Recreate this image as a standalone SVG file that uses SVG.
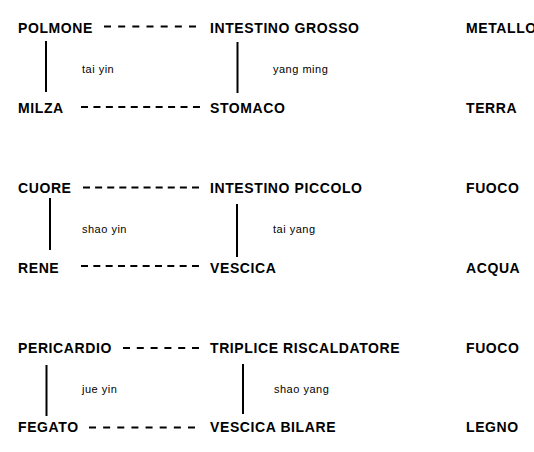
<svg xmlns="http://www.w3.org/2000/svg" width="534" height="452" viewBox="0 0 534 452">
<style>
.b{font-family:"Liberation Sans",Arial,sans-serif;font-weight:bold;font-size:14px;letter-spacing:0.6px;fill:#000}
.s{font-family:"Liberation Sans",Arial,sans-serif;font-size:11px;letter-spacing:0.5px;fill:#000}
.v{stroke:#000;stroke-width:2;fill:none}
.d{stroke:#000;stroke-width:2;fill:none}
</style>
<rect width="534" height="452" fill="#fff"/>
<g id="polmone"><text class="b" x="18" y="32.5">POLMONE</text></g>
<g id="intestino-grosso"><text class="b" x="210" y="32.5">INTESTINO GROSSO</text></g>
<g id="metallo"><text class="b" x="466" y="32.5">METALLO</text></g>
<g id="milza"><text class="b" x="18" y="112.5">MILZA</text></g>
<g id="stomaco"><text class="b" x="210" y="112.5">STOMACO</text></g>
<g id="terra"><text class="b" x="466" y="112.5">TERRA</text></g>
<g id="tai-yin"><text class="s" x="82" y="73">tai yin</text></g>
<g id="yang-ming"><text class="s" x="273" y="73">yang ming</text></g>

<g id="cuore"><text class="b" x="18" y="192.5">CUORE</text></g>
<g id="intestino-piccolo"><text class="b" x="210" y="192.5">INTESTINO PICCOLO</text></g>
<g id="fuoco1"><text class="b" x="466" y="192.5">FUOCO</text></g>
<g id="rene"><text class="b" x="18" y="272.5">RENE</text></g>
<g id="vescica"><text class="b" x="210" y="272.5">VESCICA</text></g>
<g id="acqua"><text class="b" x="466" y="272.5">ACQUA</text></g>
<g id="shao-yin"><text class="s" x="82" y="233">shao yin</text></g>
<g id="tai-yang"><text class="s" x="273" y="233">tai yang</text></g>

<g id="pericardio"><text class="b" x="18" y="352.5">PERICARDIO</text></g>
<g id="triplice"><text class="b" x="210" y="352.5">TRIPLICE RISCALDATORE</text></g>
<g id="fuoco2"><text class="b" x="466" y="352.5">FUOCO</text></g>
<g id="fegato"><text class="b" x="18" y="432">FEGATO</text></g>
<g id="vescica-bilare"><text class="b" x="210" y="432">VESCICA BILARE</text></g>
<g id="legno"><text class="b" x="466" y="432">LEGNO</text></g>
<g id="jue-yin"><text class="s" x="82" y="393">jue yin</text></g>
<g id="shao-yang"><text class="s" x="274" y="393">shao yang</text></g>

<g id="connectors">
<line class="v" x1="46" y1="41" x2="46" y2="92"/>
<line class="v" x1="237.5" y1="42" x2="237.5" y2="93"/>
<line class="v" x1="50" y1="198" x2="50" y2="250"/>
<line class="v" x1="237" y1="204" x2="237" y2="257"/>
<line class="v" x1="46.5" y1="365" x2="46.5" y2="416"/>
<line class="v" x1="243" y1="364" x2="243" y2="414"/>
<line class="d" x1="104" y1="26.5" x2="196" y2="26.5" stroke-dasharray="7 7.17"/>
<line class="d" x1="81" y1="107" x2="200" y2="107" stroke-dasharray="7 5.44"/>
<line class="d" x1="83" y1="187.5" x2="199" y2="187.5" stroke-dasharray="7 5.11"/>
<line class="d" x1="81" y1="266" x2="199" y2="266" stroke-dasharray="7 5.33"/>
<line class="d" x1="123" y1="348" x2="199" y2="348" stroke-dasharray="7 6.8"/>
<line class="d" x1="89" y1="427.5" x2="195" y2="427.5" stroke-dasharray="7 7.14"/>
</g>
</svg>
